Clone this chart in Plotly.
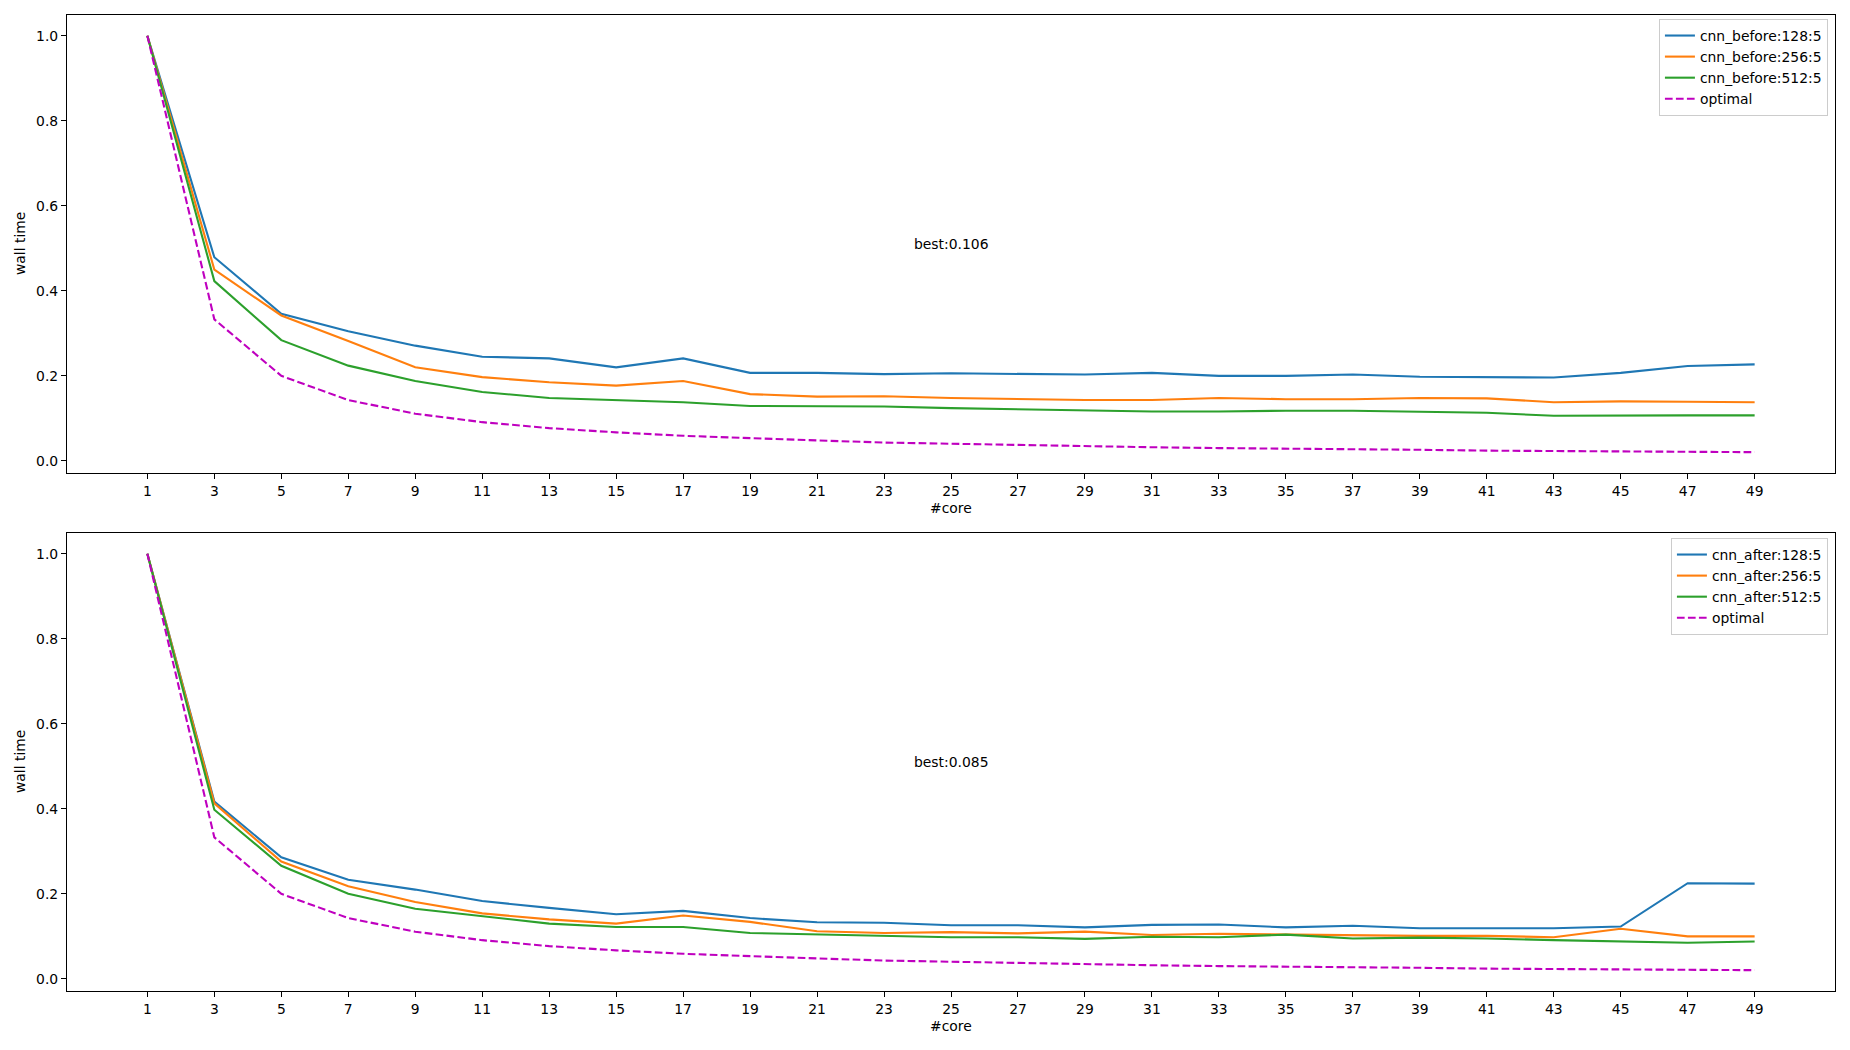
import plotly.graph_objects as go

cores = [1, 3, 5, 7, 9, 11, 13, 15, 17, 19, 21, 23, 25, 27, 29, 31, 33, 35, 37, 39, 41, 43, 45, 47, 49]
optimal = [1.0, 0.333, 0.2, 0.143, 0.111, 0.091, 0.077, 0.067, 0.059, 0.053, 0.048, 0.043, 0.04,
           0.037, 0.034, 0.032, 0.03, 0.029, 0.027, 0.026, 0.024, 0.023, 0.022, 0.021, 0.0204]

before_128 = [1.0, 0.479, 0.346, 0.305, 0.271, 0.245, 0.241, 0.220, 0.241, 0.207, 0.207, 0.204, 0.206,
              0.205, 0.203, 0.207, 0.200, 0.200, 0.203, 0.198, 0.197, 0.196, 0.207, 0.223, 0.227]
before_256 = [1.0, 0.450, 0.342, 0.282, 0.220, 0.197, 0.185, 0.177, 0.188, 0.157, 0.151, 0.152, 0.148,
              0.146, 0.143, 0.143, 0.148, 0.145, 0.145, 0.148, 0.147, 0.138, 0.140, 0.139, 0.138]
before_512 = [1.0, 0.423, 0.284, 0.224, 0.188, 0.162, 0.148, 0.143, 0.138, 0.129, 0.128, 0.128, 0.124,
              0.121, 0.119, 0.116, 0.116, 0.118, 0.118, 0.115, 0.113, 0.106, 0.107, 0.107, 0.107]

after_128 = [1.0, 0.417, 0.286, 0.233, 0.210, 0.183, 0.167, 0.152, 0.160, 0.143, 0.133, 0.132, 0.126,
             0.126, 0.121, 0.127, 0.128, 0.121, 0.125, 0.119, 0.119, 0.119, 0.123, 0.225, 0.224]
after_256 = [1.0, 0.413, 0.276, 0.218, 0.181, 0.154, 0.140, 0.130, 0.149, 0.134, 0.112, 0.108, 0.110,
             0.107, 0.111, 0.103, 0.106, 0.104, 0.102, 0.101, 0.101, 0.098, 0.118, 0.100, 0.100]
after_512 = [1.0, 0.398, 0.266, 0.200, 0.165, 0.148, 0.130, 0.122, 0.122, 0.108, 0.105, 0.102, 0.098,
             0.098, 0.094, 0.099, 0.098, 0.104, 0.095, 0.097, 0.095, 0.091, 0.088, 0.085, 0.088]

best_before = "best:0.106"
best_after = "best:0.085"

C_BLUE, C_ORANGE, C_GREEN, C_MAG = "#1f77b4", "#ff7f0e", "#2ca02c", "#bf00bf"
FONT = "DejaVu Sans"
FS = 13.9
LW = 2.1
DASH = "7.7px,3.3px"

fig = go.Figure()

top = [("cnn_before:128:5", before_128, C_BLUE), ("cnn_before:256:5", before_256, C_ORANGE),
       ("cnn_before:512:5", before_512, C_GREEN)]
bot = [("cnn_after:128:5", after_128, C_BLUE), ("cnn_after:256:5", after_256, C_ORANGE),
       ("cnn_after:512:5", after_512, C_GREEN)]

for name, vals, col in top:
    fig.add_trace(go.Scatter(x=cores, y=vals, mode="lines", name=name, line=dict(color=col, width=LW),
                             xaxis="x", yaxis="y", legend="legend"))
fig.add_trace(go.Scatter(x=cores, y=optimal, mode="lines", name="optimal",
                         line=dict(color=C_MAG, width=LW, dash=DASH), xaxis="x", yaxis="y", legend="legend"))
for name, vals, col in bot:
    fig.add_trace(go.Scatter(x=cores, y=vals, mode="lines", name=name, line=dict(color=col, width=LW),
                             xaxis="x2", yaxis="y2", legend="legend2"))
fig.add_trace(go.Scatter(x=cores, y=optimal, mode="lines", name="optimal",
                         line=dict(color=C_MAG, width=LW, dash=DASH), xaxis="x2", yaxis="y2", legend="legend2"))

L, R, T, B = 67, 15, 15, 59
H = 1050 - T - B
top_dom = [(991 - 473) / H, 1.0]
bot_dom = [0.0, (991 - 533) / H]

xcommon = dict(range=[-1.4, 51.4], tickmode="array", tickvals=cores, ticktext=[str(c) for c in cores],
               showgrid=False, zeroline=False, showline=True, linecolor="black", linewidth=1.1,
               mirror=True, ticks="outside", ticklen=5, tickwidth=1.1, tickcolor="black",
               tickfont=dict(family=FONT, size=FS, color="black"))
ycommon = dict(range=[-0.0286, 1.049], tickmode="array", tickvals=[0, 0.2, 0.4, 0.6, 0.8, 1.0],
               ticktext=["0.0", "0.2", "0.4", "0.6", "0.8", "1.0"],
               showgrid=False, zeroline=False, showline=True, linecolor="black", linewidth=1.1,
               mirror=True, ticks="outside", ticklen=5, tickwidth=1.1, tickcolor="black",
               tickfont=dict(family=FONT, size=FS, color="black"))

legcommon = dict(xanchor="right", yanchor="top", bgcolor="rgba(255,255,255,0.8)", bordercolor="#cccccc",
                 borderwidth=1, font=dict(family=FONT, size=FS, color="black"), itemwidth=30,
                 tracegroupgap=0)

fig.update_layout(
    width=1850, height=1050,
    margin=dict(l=L, r=R, t=T, b=B),
    paper_bgcolor="white", plot_bgcolor="white",
    font=dict(family=FONT, size=FS, color="black"),
    xaxis=dict(domain=[0, 1], anchor="y", **xcommon),
    yaxis=dict(domain=top_dom, anchor="x", **ycommon),
    xaxis2=dict(domain=[0, 1], anchor="y2", **xcommon),
    yaxis2=dict(domain=bot_dom, anchor="x2", **ycommon),
    legend=dict(x=0.996, y=(991 - 19) / H, **legcommon),
    legend2=dict(x=0.996, y=(991 - 538) / H, **legcommon),
    showlegend=True,
)

ann = []
ann.append(dict(x=25, y=0.5, xref="x", yref="y", text=best_before, showarrow=False,
                xanchor="center", yanchor="bottom", yshift=-6, font=dict(family=FONT, size=FS)))
ann.append(dict(x=25, y=0.5, xref="x2", yref="y2", text=best_after, showarrow=False,
                xanchor="center", yanchor="bottom", yshift=-6, font=dict(family=FONT, size=FS)))
# axis titles
for ytxt, ycen in [("wall time", (991 - 244) / H), ("wall time", (991 - 762) / H)]:
    ann.append(dict(x=(20 - L) / (1850 - L - R), y=ycen, xref="paper", yref="paper", text=ytxt,
                    showarrow=False, textangle=-90, xanchor="center", yanchor="middle",
                    font=dict(family=FONT, size=FS)))
for ycen in [(991 - 508) / H, (991 - 1026) / H]:
    ann.append(dict(x=0.5, y=ycen, xref="paper", yref="paper", text="#core", showarrow=False,
                    xanchor="center", yanchor="middle", font=dict(family=FONT, size=FS)))
fig.update_layout(annotations=ann)

fig.write_html("out.html")
